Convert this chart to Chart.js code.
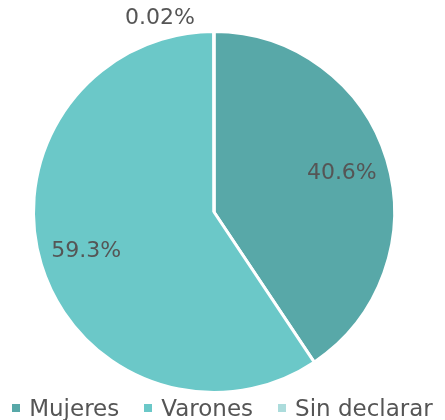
<!DOCTYPE html>
<html>
<head>
<meta charset="utf-8">
<script src="https://cdn.jsdelivr.net/npm/chart.js@4/dist/chart.umd.min.js"></script>
<style>
  html, body { margin: 0; padding: 0; background: #fff; }
  #wrap { position: relative; width: 445px; height: 420px; overflow: hidden; }
  #legend {
    position: absolute; left: 0; top: 394px; width: 445px; height: 28px;
    display: flex; justify-content: center; align-items: center; gap: 25px;
    font-family: "DejaVu Sans", sans-serif; font-size: 23px; color: #555555;
    white-space: nowrap;
  }
  #legend span.box { display: inline-block; width: 8px; height: 8px; margin-right: 9px; vertical-align: middle; position: relative; top: -2px; }
</style>
</head>
<body>
<div id="wrap">
  <canvas id="myChart" width="445" height="420"></canvas>
  <div id="legend"></div>
</div>
<script>
'use strict';
const categories = ['Mujeres', 'Varones', 'Sin declarar'];
const shares = [40.6, 59.3, 0.02];
const shareLabels = ['40.6%', '59.3%', '0.02%'];
const sliceColors = ['#58a8a8', '#6bc8c8', '#acdcdc'];

const fontFamily = '"DejaVu Sans", sans-serif';

// draws the percentage text on each slice (tiny slice gets it outside)
const pctLabels = {
  id: 'pctLabels',
  afterDatasetsDraw(chart) {
    const ctx = chart.ctx;
    const arcs = chart.getDatasetMeta(0).data;
    ctx.save();
    ctx.font = '22px ' + fontFamily;
    ctx.fillStyle = '#555555';
    ctx.textAlign = 'center';
    ctx.textBaseline = 'middle';
    arcs.forEach((arc, i) => {
      const p = arc.getProps(['x', 'y', 'startAngle', 'endAngle', 'outerRadius'], true);
      const mid = (p.startAngle + p.endAngle) / 2;
      if (shares[i] < 1) {
        ctx.fillText(shareLabels[i], p.x - 54, p.y - p.outerRadius - 13);
      } else {
        const r = p.outerRadius * 0.74;
        ctx.fillText(shareLabels[i], p.x + Math.cos(mid) * r, p.y + Math.sin(mid) * r);
      }
    });
    ctx.restore();
  }
};

let ctx = document.getElementById('myChart').getContext('2d');
let chart = new Chart(ctx, {
  type: 'pie',
  data: {
    labels: categories,
    datasets: [{
      data: shares,
      backgroundColor: sliceColors,
      borderColor: '#ffffff',
      borderWidth: 3
    }]
  },
  options: {
    responsive: false,
    animation: false,
    layout: { padding: { top: 30, left: 0, right: 17, bottom: 26 } },
    plugins: {
      tooltip: { enabled: false },
      legend: { display: false }
    }
  },
  plugins: [pctLabels]
});

/* legend below the pie, built from the same arrays */
const legendDiv = document.getElementById('legend');
for (let i = 0; i < categories.length; i++) {
  let item = document.createElement('span');
  let box = document.createElement('span');
  box.className = 'box';
  box.style.background = sliceColors[i];
  item.appendChild(box);
  item.appendChild(document.createTextNode(categories[i]));
  legendDiv.appendChild(item);
}
</script>
</body>
</html>
